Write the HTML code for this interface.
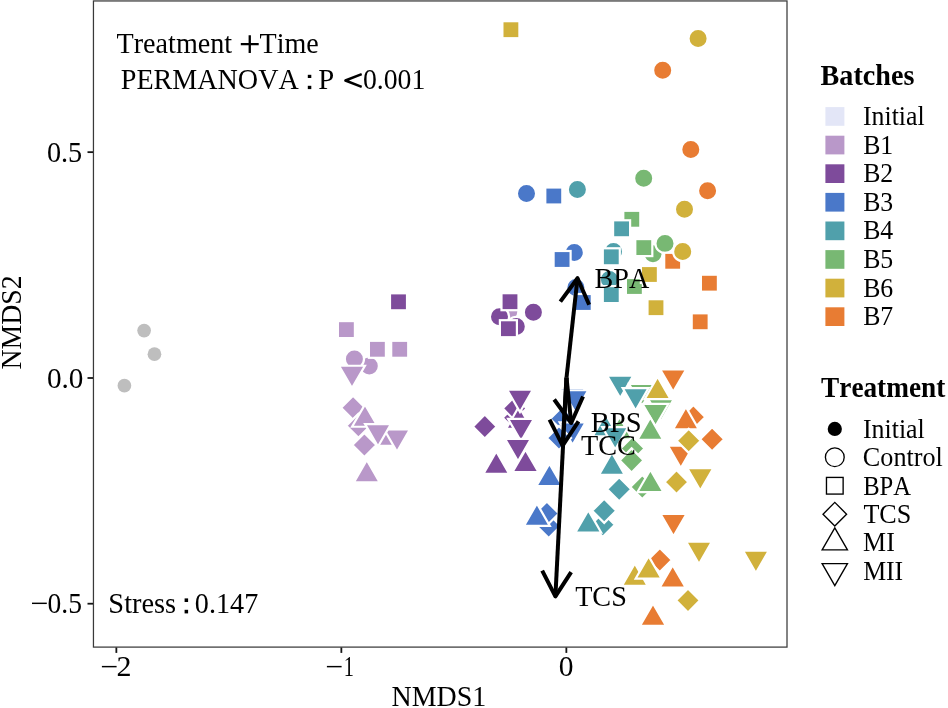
<!DOCTYPE html>
<html><head><meta charset="utf-8"><style>
html,body{margin:0;padding:0;background:#fff;}
body{width:948px;height:708px;overflow:hidden;position:relative;}
svg{position:absolute;left:0;top:0;will-change:transform;}
text{font-family:"Liberation Serif",serif;fill:#000;font-kerning:none;}
</style></head><body>
<svg width="948" height="708" viewBox="0 0 948 708">
<rect x="0" y="0" width="948" height="708" fill="#fff"/>
<g id="pts">
<circle cx="369.30" cy="366.00" r="9.6" fill="#B998C9" stroke="#fff" stroke-width="2.2"/>
<circle cx="144.10" cy="330.60" r="6.85" fill="#BEBEBE"/>
<circle cx="154.45" cy="354.20" r="6.85" fill="#BEBEBE"/>
<circle cx="124.40" cy="385.70" r="6.85" fill="#BEBEBE"/>
<rect x="337.89" y="321.09" width="17.02" height="17.02" fill="#B998C9" stroke="#fff" stroke-width="2.2"/>
<rect x="368.89" y="340.79" width="17.02" height="17.02" fill="#B998C9" stroke="#fff" stroke-width="2.2"/>
<rect x="391.19" y="340.79" width="17.02" height="17.02" fill="#B998C9" stroke="#fff" stroke-width="2.2"/>
<circle cx="354.40" cy="359.10" r="9.6" fill="#B998C9" stroke="#fff" stroke-width="2.2"/>
<polygon points="352.00,388.13 364.93,365.74 339.07,365.74" fill="#B998C9" stroke="#fff" stroke-width="2.2"/>
<polygon points="353.10,395.67 365.13,407.70 353.10,419.73 341.07,407.70" fill="#B998C9" stroke="#fff" stroke-width="2.2"/>
<polygon points="358.40,413.77 370.43,425.80 358.40,437.83 346.37,425.80" fill="#B998C9" stroke="#fff" stroke-width="2.2"/>
<polygon points="365.00,404.37 377.93,426.76 352.07,426.76" fill="#B998C9" stroke="#fff" stroke-width="2.2"/>
<polygon points="385.50,423.37 398.43,445.76 372.57,445.76" fill="#B998C9" stroke="#fff" stroke-width="2.2"/>
<polygon points="397.00,451.73 409.93,429.34 384.07,429.34" fill="#B998C9" stroke="#fff" stroke-width="2.2"/>
<polygon points="364.40,432.97 376.43,445.00 364.40,457.03 352.37,445.00" fill="#B998C9" stroke="#fff" stroke-width="2.2"/>
<polygon points="366.80,460.07 379.73,482.46 353.87,482.46" fill="#B998C9" stroke="#fff" stroke-width="2.2"/>
<circle cx="508.80" cy="311.60" r="9.6" fill="#B998C9" stroke="#fff" stroke-width="2.2"/>
<rect x="389.99" y="293.29" width="17.02" height="17.02" fill="#7E4B9B" stroke="#fff" stroke-width="2.2"/>
<circle cx="499.50" cy="316.70" r="9.6" fill="#7E4B9B" stroke="#fff" stroke-width="2.2"/>
<rect x="501.49" y="293.19" width="17.02" height="17.02" fill="#7E4B9B" stroke="#fff" stroke-width="2.2"/>
<circle cx="533.40" cy="312.30" r="9.6" fill="#7E4B9B" stroke="#fff" stroke-width="2.2"/>
<circle cx="516.30" cy="326.40" r="9.6" fill="#7E4B9B" stroke="#fff" stroke-width="2.2"/>
<rect x="499.89" y="320.19" width="17.02" height="17.02" fill="#7E4B9B" stroke="#fff" stroke-width="2.2"/>
<polygon points="514.70,405.77 526.73,417.80 514.70,429.83 502.67,417.80" fill="#7E4B9B" stroke="#fff" stroke-width="2.2"/>
<polygon points="514.70,396.37 526.73,408.40 514.70,420.43 502.67,408.40" fill="#7E4B9B" stroke="#fff" stroke-width="2.2"/>
<polygon points="519.00,406.57 531.93,428.96 506.07,428.96" fill="#7E4B9B" stroke="#fff" stroke-width="2.2"/>
<polygon points="520.00,411.93 532.93,389.54 507.07,389.54" fill="#7E4B9B" stroke="#fff" stroke-width="2.2"/>
<polygon points="521.00,441.23 533.93,418.84 508.07,418.84" fill="#7E4B9B" stroke="#fff" stroke-width="2.2"/>
<polygon points="484.80,414.57 496.83,426.60 484.80,438.63 472.77,426.60" fill="#7E4B9B" stroke="#fff" stroke-width="2.2"/>
<polygon points="518.00,461.23 530.93,438.84 505.07,438.84" fill="#7E4B9B" stroke="#fff" stroke-width="2.2"/>
<polygon points="496.30,451.47 509.23,473.86 483.37,473.86" fill="#7E4B9B" stroke="#fff" stroke-width="2.2"/>
<polygon points="525.50,449.67 538.43,472.06 512.57,472.06" fill="#7E4B9B" stroke="#fff" stroke-width="2.2"/>
<circle cx="526.50" cy="193.60" r="9.6" fill="#4A78C9" stroke="#fff" stroke-width="2.2"/>
<rect x="545.29" y="187.49" width="17.02" height="17.02" fill="#4A78C9" stroke="#fff" stroke-width="2.2"/>
<circle cx="574.30" cy="252.40" r="9.6" fill="#4A78C9" stroke="#fff" stroke-width="2.2"/>
<rect x="553.59" y="250.99" width="17.02" height="17.02" fill="#4A78C9" stroke="#fff" stroke-width="2.2"/>
<circle cx="575.90" cy="287.50" r="9.6" fill="#4A78C9" stroke="#fff" stroke-width="2.2"/>
<rect x="574.79" y="293.99" width="17.02" height="17.02" fill="#4A78C9" stroke="#fff" stroke-width="2.2"/>
<polygon points="572.30,410.33 585.23,387.94 559.37,387.94" fill="#4A78C9" stroke="#fff" stroke-width="2.2"/>
<polygon points="575.30,412.63 588.23,390.24 562.37,390.24" fill="#4A78C9" stroke="#fff" stroke-width="2.2"/>
<polygon points="562.20,406.77 574.23,418.80 562.20,430.83 550.17,418.80" fill="#4A78C9" stroke="#fff" stroke-width="2.2"/>
<polygon points="572.60,444.83 585.53,422.44 559.67,422.44" fill="#4A78C9" stroke="#fff" stroke-width="2.2"/>
<polygon points="559.00,425.97 571.03,438.00 559.00,450.03 546.97,438.00" fill="#4A78C9" stroke="#fff" stroke-width="2.2"/>
<polygon points="549.40,463.67 562.33,486.06 536.47,486.06" fill="#4A78C9" stroke="#fff" stroke-width="2.2"/>
<polygon points="548.70,513.97 560.73,526.00 548.70,538.03 536.67,526.00" fill="#4A78C9" stroke="#fff" stroke-width="2.2"/>
<polygon points="546.90,501.47 558.93,513.50 546.90,525.53 534.87,513.50" fill="#4A78C9" stroke="#fff" stroke-width="2.2"/>
<circle cx="577.40" cy="189.50" r="9.6" fill="#50A0AB" stroke="#fff" stroke-width="2.2"/>
<circle cx="613.50" cy="251.50" r="9.6" fill="#50A0AB" stroke="#fff" stroke-width="2.2"/>
<rect x="602.79" y="248.29" width="17.02" height="17.02" fill="#50A0AB" stroke="#fff" stroke-width="2.2"/>
<circle cx="609.40" cy="279.40" r="9.6" fill="#50A0AB" stroke="#fff" stroke-width="2.2"/>
<rect x="602.79" y="286.09" width="17.02" height="17.02" fill="#50A0AB" stroke="#fff" stroke-width="2.2"/>
<polygon points="620.20,398.13 633.13,375.74 607.27,375.74" fill="#50A0AB" stroke="#fff" stroke-width="2.2"/>
<polygon points="605.50,414.07 618.43,436.46 592.57,436.46" fill="#50A0AB" stroke="#fff" stroke-width="2.2"/>
<polygon points="619.50,417.07 632.43,439.46 606.57,439.46" fill="#78B873" stroke="#fff" stroke-width="2.2"/>
<polygon points="615.20,449.43 628.13,427.04 602.27,427.04" fill="#50A0AB" stroke="#fff" stroke-width="2.2"/>
<polygon points="611.90,452.47 624.83,474.86 598.97,474.86" fill="#50A0AB" stroke="#fff" stroke-width="2.2"/>
<polygon points="619.20,477.27 631.23,489.30 619.20,501.33 607.17,489.30" fill="#50A0AB" stroke="#fff" stroke-width="2.2"/>
<polygon points="602.80,512.67 614.83,524.70 602.80,536.73 590.77,524.70" fill="#50A0AB" stroke="#fff" stroke-width="2.2"/>
<polygon points="604.20,498.77 616.23,510.80 604.20,522.83 592.17,510.80" fill="#50A0AB" stroke="#fff" stroke-width="2.2"/>
<polygon points="588.30,510.17 601.23,532.56 575.37,532.56" fill="#50A0AB" stroke="#fff" stroke-width="2.2"/>
<circle cx="643.70" cy="178.20" r="9.6" fill="#78B873" stroke="#fff" stroke-width="2.2"/>
<rect x="623.29" y="210.79" width="17.02" height="17.02" fill="#78B873" stroke="#fff" stroke-width="2.2"/>
<circle cx="653.00" cy="253.70" r="9.6" fill="#78B873" stroke="#fff" stroke-width="2.2"/>
<rect x="635.29" y="239.09" width="17.02" height="17.02" fill="#78B873" stroke="#fff" stroke-width="2.2"/>
<circle cx="665.00" cy="243.40" r="9.6" fill="#78B873" stroke="#fff" stroke-width="2.2"/>
<rect x="625.89" y="277.99" width="17.02" height="17.02" fill="#78B873" stroke="#fff" stroke-width="2.2"/>
<polygon points="642.00,406.33 654.93,383.94 629.07,383.94" fill="#78B873" stroke="#fff" stroke-width="2.2"/>
<polygon points="661.00,421.23 673.93,398.84 648.07,398.84" fill="#78B873" stroke="#fff" stroke-width="2.2"/>
<polygon points="655.50,426.33 668.43,403.94 642.57,403.94" fill="#78B873" stroke="#fff" stroke-width="2.2"/>
<polygon points="650.30,417.47 663.23,439.86 637.37,439.86" fill="#78B873" stroke="#fff" stroke-width="2.2"/>
<polygon points="632.50,436.47 644.53,448.50 632.50,460.53 620.47,448.50" fill="#78B873" stroke="#fff" stroke-width="2.2"/>
<polygon points="631.60,448.37 643.63,460.40 631.60,472.43 619.57,460.40" fill="#78B873" stroke="#fff" stroke-width="2.2"/>
<polygon points="642.30,474.97 654.33,487.00 642.30,499.03 630.27,487.00" fill="#78B873" stroke="#fff" stroke-width="2.2"/>
<polygon points="650.40,469.67 663.33,492.06 637.47,492.06" fill="#78B873" stroke="#fff" stroke-width="2.2"/>
<rect x="502.39" y="21.19" width="17.02" height="17.02" fill="#D1B13B" stroke="#fff" stroke-width="2.2"/>
<circle cx="698.10" cy="38.40" r="9.6" fill="#D1B13B" stroke="#fff" stroke-width="2.2"/>
<circle cx="684.50" cy="209.20" r="9.6" fill="#D1B13B" stroke="#fff" stroke-width="2.2"/>
<rect x="640.89" y="265.99" width="17.02" height="17.02" fill="#D1B13B" stroke="#fff" stroke-width="2.2"/>
<rect x="647.49" y="299.19" width="17.02" height="17.02" fill="#D1B13B" stroke="#fff" stroke-width="2.2"/>
<polygon points="657.60,376.77 670.53,399.16 644.67,399.16" fill="#D1B13B" stroke="#fff" stroke-width="2.2"/>
<polygon points="676.50,470.07 688.53,482.10 676.50,494.13 664.47,482.10" fill="#D1B13B" stroke="#fff" stroke-width="2.2"/>
<polygon points="700.30,490.63 713.23,468.24 687.37,468.24" fill="#D1B13B" stroke="#fff" stroke-width="2.2"/>
<polygon points="634.80,563.47 647.73,585.86 621.87,585.86" fill="#D1B13B" stroke="#fff" stroke-width="2.2"/>
<polygon points="699.00,564.03 711.93,541.64 686.07,541.64" fill="#D1B13B" stroke="#fff" stroke-width="2.2"/>
<polygon points="755.90,573.03 768.83,550.64 742.97,550.64" fill="#D1B13B" stroke="#fff" stroke-width="2.2"/>
<polygon points="688.00,588.37 700.03,600.40 688.00,612.43 675.97,600.40" fill="#D1B13B" stroke="#fff" stroke-width="2.2"/>
<circle cx="662.70" cy="70.30" r="9.6" fill="#E87C33" stroke="#fff" stroke-width="2.2"/>
<circle cx="690.80" cy="149.60" r="9.6" fill="#E87C33" stroke="#fff" stroke-width="2.2"/>
<circle cx="707.60" cy="190.70" r="9.6" fill="#E87C33" stroke="#fff" stroke-width="2.2"/>
<rect x="664.19" y="252.79" width="17.02" height="17.02" fill="#E87C33" stroke="#fff" stroke-width="2.2"/>
<rect x="700.89" y="274.69" width="17.02" height="17.02" fill="#E87C33" stroke="#fff" stroke-width="2.2"/>
<rect x="691.69" y="313.29" width="17.02" height="17.02" fill="#E87C33" stroke="#fff" stroke-width="2.2"/>
<polygon points="673.20,391.83 686.13,369.44 660.27,369.44" fill="#E87C33" stroke="#fff" stroke-width="2.2"/>
<polygon points="693.40,405.07 705.43,417.10 693.40,429.13 681.37,417.10" fill="#E87C33" stroke="#fff" stroke-width="2.2"/>
<polygon points="685.90,407.07 698.83,429.46 672.97,429.46" fill="#E87C33" stroke="#fff" stroke-width="2.2"/>
<polygon points="712.10,427.17 724.13,439.20 712.10,451.23 700.07,439.20" fill="#E87C33" stroke="#fff" stroke-width="2.2"/>
<polygon points="680.80,468.03 693.73,445.64 667.87,445.64" fill="#E87C33" stroke="#fff" stroke-width="2.2"/>
<polygon points="673.50,536.33 686.43,513.94 660.57,513.94" fill="#E87C33" stroke="#fff" stroke-width="2.2"/>
<polygon points="659.80,547.97 671.83,560.00 659.80,572.03 647.77,560.00" fill="#E87C33" stroke="#fff" stroke-width="2.2"/>
<polygon points="672.70,565.17 685.63,587.56 659.77,587.56" fill="#E87C33" stroke="#fff" stroke-width="2.2"/>
<polygon points="653.00,603.37 665.93,625.76 640.07,625.76" fill="#E87C33" stroke="#fff" stroke-width="2.2"/>
<polygon points="378.00,446.53 390.93,424.14 365.07,424.14" fill="#B998C9" stroke="#fff" stroke-width="2.2"/>
<polygon points="536.90,503.47 549.83,525.86 523.97,525.86" fill="#4A78C9" stroke="#fff" stroke-width="2.2"/>
<rect x="613.09" y="220.29" width="17.02" height="17.02" fill="#50A0AB" stroke="#fff" stroke-width="2.2"/>
<polygon points="635.60,410.53 648.53,388.14 622.67,388.14" fill="#50A0AB" stroke="#fff" stroke-width="2.2"/>
<circle cx="682.70" cy="251.60" r="9.6" fill="#D1B13B" stroke="#fff" stroke-width="2.2"/>
<polygon points="688.70,428.77 700.73,440.80 688.70,452.83 676.67,440.80" fill="#D1B13B" stroke="#fff" stroke-width="2.2"/>
<polygon points="648.60,556.17 661.53,578.56 635.67,578.56" fill="#D1B13B" stroke="#fff" stroke-width="2.2"/>
</g>
<g id="arrows" stroke="#000" stroke-width="4.0" stroke-linejoin="round" stroke-linecap="butt">
<line x1="566.5" y1="377.6" x2="577.5" y2="278.2" />
<polyline points="560.33,301.57 577.5,278.2 589.15,304.76" fill="none"/>
<line x1="566.5" y1="377.6" x2="571.2" y2="423.0" />
<polyline points="583.04,396.53 571.2,423.0 554.19,399.51" fill="none"/>
<line x1="566.5" y1="377.6" x2="562.6" y2="445.6" />
<polyline points="578.51,421.36 562.6,445.6 549.56,419.70" fill="none"/>
<line x1="566.5" y1="377.6" x2="555.4" y2="596.4" />
<polyline points="571.15,572.05 555.4,596.4 542.19,570.58" fill="none"/>
</g>
<g id="txt">
<text x="116.54" y="53.40" font-size="29" textLength="115.67" lengthAdjust="spacingAndGlyphs">Treatment</text>
<text x="259.54" y="53.40" font-size="29" textLength="59.26" lengthAdjust="spacingAndGlyphs">Time</text>
<text x="120.76" y="89.00" font-size="29" textLength="178.00" lengthAdjust="spacingAndGlyphs">PERMANOVA</text>
<text x="318.34" y="89.00" font-size="29" textLength="15.94" lengthAdjust="spacingAndGlyphs">P</text>
<text x="362.89" y="89.20" font-size="29" textLength="62.37" lengthAdjust="spacingAndGlyphs">0.001</text>
<text x="108.36" y="613.30" font-size="29" textLength="67.82" lengthAdjust="spacingAndGlyphs">Stress</text>
<text x="194.87" y="613.40" font-size="29" textLength="63.37" lengthAdjust="spacingAndGlyphs">0.147</text>
<text x="594.45" y="287.80" font-size="29" textLength="54.79" lengthAdjust="spacingAndGlyphs">BPA</text>
<text x="590.84" y="431.80" font-size="29" textLength="50.75" lengthAdjust="spacingAndGlyphs">BPS</text>
<text x="581.04" y="454.70" font-size="29" textLength="54.91" lengthAdjust="spacingAndGlyphs">TCC</text>
<text x="575.14" y="606.00" font-size="29" textLength="51.67" lengthAdjust="spacingAndGlyphs">TCS</text>
<text x="46.97" y="161.60" font-size="29" textLength="35.26" lengthAdjust="spacingAndGlyphs">0.5</text>
<text x="46.93" y="387.60" font-size="29" textLength="36.54" lengthAdjust="spacingAndGlyphs">0.0</text>
<text x="47.60" y="613.40" font-size="29" textLength="34.40" lengthAdjust="spacingAndGlyphs">0.5</text>
<text x="116.55" y="675.90" font-size="29" textLength="15.00" lengthAdjust="spacingAndGlyphs">2</text>
<text x="343.77" y="676.40" font-size="29" textLength="10.14" lengthAdjust="spacingAndGlyphs">1</text>
<text x="558.82" y="676.30" font-size="29" textLength="14.76" lengthAdjust="spacingAndGlyphs">0</text>
<text x="391.46" y="706.30" font-size="29" textLength="94.71" lengthAdjust="spacingAndGlyphs">NMDS1</text>
<text x="820.58" y="84.70" font-size="28.5" font-weight="bold" textLength="93.77" lengthAdjust="spacingAndGlyphs">Batches</text>
<text x="821.09" y="397.20" font-size="28.5" font-weight="bold" textLength="124.21" lengthAdjust="spacingAndGlyphs">Treatment</text>
<text transform="translate(20.6,369.53) rotate(-90)" x="0" y="0" font-size="29" textLength="94.15" lengthAdjust="spacingAndGlyphs">NMDS2</text>
</g>
<path d="M240.8,44.15 H258.7 M249.75,35.2 V53.1" stroke="#000" stroke-width="2.3" fill="none"/>
<path d="M361.7,74.2 L345.4,80.5 L361.7,86.8" stroke="#000" stroke-width="2.5" fill="none" stroke-linejoin="round"/>
<rect x="307.8" y="74.8" width="3.50" height="3.20" fill="#000"/><rect x="307.8" y="85.8" width="3.50" height="3.30" fill="#000"/>
<rect x="184.6" y="598.4" width="3.50" height="3.60" fill="#000"/><rect x="184.6" y="609.8" width="3.50" height="3.60" fill="#000"/>
<rect x="32.0" y="602.6" width="14.8" height="1.45" fill="#000"/>
<rect x="101.9" y="665.9" width="14.7" height="1.45" fill="#000"/>
<rect x="326.9" y="665.9" width="14.7" height="1.45" fill="#000"/>
<rect x="93.45" y="0.95" width="693.55" height="646.15" fill="none" stroke="#3a3a3a" stroke-width="1.25"/>
<g id="ticks" stroke="#151515" stroke-width="1.8">
<line x1="116.35" y1="647.5" x2="116.35" y2="652.9"/>
<line x1="341.35" y1="647.5" x2="341.35" y2="652.9"/>
<line x1="566.35" y1="647.5" x2="566.35" y2="652.9"/>
<line x1="87.5" y1="152.15" x2="93" y2="152.15"/>
<line x1="87.5" y1="378.0" x2="93" y2="378.0"/>
<line x1="87.5" y1="603.7" x2="93" y2="603.7"/>
</g>
<g id="legend">
<rect x="825.4" y="107.10" width="19" height="18.7" fill="#E3E6F7"/>
<text x="863.00" y="125.05" font-size="27" textLength="61.58" lengthAdjust="spacingAndGlyphs">Initial</text>
<rect x="825.4" y="135.70" width="19" height="18.7" fill="#B998C9"/>
<text x="863.13" y="153.65" font-size="27" textLength="30.09" lengthAdjust="spacingAndGlyphs">B1</text>
<rect x="825.4" y="164.30" width="19" height="18.7" fill="#7E4B9B"/>
<text x="863.13" y="182.25" font-size="27" textLength="30.09" lengthAdjust="spacingAndGlyphs">B2</text>
<rect x="825.4" y="192.90" width="19" height="18.7" fill="#4A78C9"/>
<text x="863.13" y="210.85" font-size="27" textLength="30.09" lengthAdjust="spacingAndGlyphs">B3</text>
<rect x="825.4" y="221.50" width="19" height="18.7" fill="#50A0AB"/>
<text x="863.13" y="239.45" font-size="27" textLength="30.09" lengthAdjust="spacingAndGlyphs">B4</text>
<rect x="825.4" y="250.10" width="19" height="18.7" fill="#78B873"/>
<text x="863.13" y="268.05" font-size="27" textLength="30.09" lengthAdjust="spacingAndGlyphs">B5</text>
<rect x="825.4" y="278.70" width="19" height="18.7" fill="#D1B13B"/>
<text x="863.13" y="296.65" font-size="27" textLength="30.09" lengthAdjust="spacingAndGlyphs">B6</text>
<rect x="825.4" y="307.30" width="19" height="18.7" fill="#E87C33"/>
<text x="863.13" y="325.25" font-size="27" textLength="30.09" lengthAdjust="spacingAndGlyphs">B7</text>
<text x="862.99" y="437.80" font-size="27" textLength="61.78" lengthAdjust="spacingAndGlyphs">Initial</text>
<text x="862.85" y="466.10" font-size="27" textLength="79.99" lengthAdjust="spacingAndGlyphs">Control</text>
<text x="863.16" y="494.60" font-size="27" textLength="47.87" lengthAdjust="spacingAndGlyphs">BPA</text>
<text x="863.38" y="523.00" font-size="27" textLength="47.89" lengthAdjust="spacingAndGlyphs">TCS</text>
<text x="863.12" y="551.40" font-size="27" textLength="31.64" lengthAdjust="spacingAndGlyphs">MI</text>
<text x="863.13" y="579.80" font-size="27" textLength="40.08" lengthAdjust="spacingAndGlyphs">MII</text>
<circle cx="834.8" cy="428.95" r="7.1" fill="#000"/>
<circle cx="834.8" cy="457.25" r="9.4" fill="none" stroke="#000" stroke-width="1.35"/>
<rect x="826.47" y="477.42" width="16.66" height="16.66" fill="none" stroke="#000" stroke-width="1.35"/>
<polygon points="834.80,502.37 846.58,514.15 834.80,525.93 823.02,514.15" fill="none" stroke="#000" stroke-width="1.35"/>
<polygon points="834.80,527.93 847.46,549.86 822.14,549.86" fill="none" stroke="#000" stroke-width="1.35"/>
<polygon points="834.80,585.57 847.46,563.64 822.14,563.64" fill="none" stroke="#000" stroke-width="1.35"/>
</g>
</svg>
</body></html>
